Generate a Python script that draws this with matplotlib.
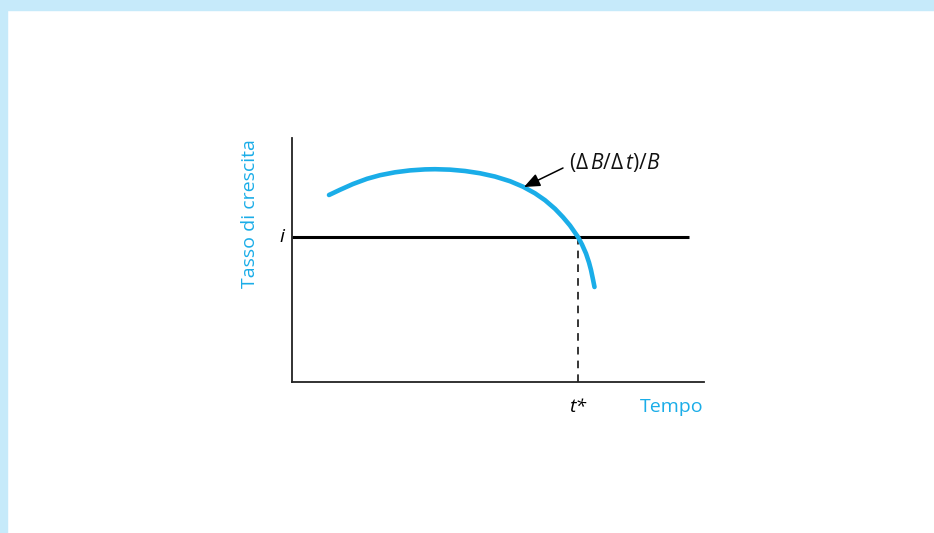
import matplotlib
matplotlib.use("Agg")
import matplotlib.pyplot as plt
from matplotlib.patches import Rectangle

plt.rcParams['font.family'] = ['Open Sans', 'DejaVu Sans']
plt.rcParams['mathtext.fontset'] = 'custom'
plt.rcParams['mathtext.rm'] = 'Open Sans'
plt.rcParams['mathtext.it'] = 'Open Sans:italic'

# Curve (time, growth rate)
curve_t = [37, 48, 61, 75, 88, 103, 118, 133, 143, 158, 173, 188, 203, 218, 231,
           243, 253, 263, 271, 278, 286, 290, 294, 297, 299, 301, 302.5]
curve_r = [187, 192.2, 198, 203.2, 206.8, 209.7, 211.6, 212.6, 212.8, 212.35, 211,
           208.75, 205.45, 200.8, 195.3, 188.7, 181.8, 173.2, 164.8, 156.5, 145,
           137.5, 128.5, 119.5, 112, 102.5, 95]
rate_i = 145
t_star = 286
hline_end = 397

xlabel = "Tempo"
ylabel = "Tasso di crescita"
curve_label = r"$(\Delta\, B/\Delta\, t)/B$"

blue = "#1AADE8"
border = "#C6EAFA"

fig = plt.figure(figsize=(9.34, 5.33), dpi=100)
fig.patches.append(Rectangle((0, 1 - 10/533), 1, 10/533, transform=fig.transFigure,
                             color=border, zorder=0))
fig.patches.append(Rectangle((0, 0), 7/934, 1, transform=fig.transFigure,
                             color=border, zorder=0))

ax = fig.add_axes([292/934, 1 - 382/533, 412/934, 244/533])
ax.set_xlim(0, 412)
ax.set_ylim(0, 244)
for s in ["top", "right"]:
    ax.spines[s].set_visible(False)
for s in ["left", "bottom"]:
    ax.spines[s].set_linewidth(1.3)
    ax.spines[s].set_color("#222222")
ax.set_xticks([])
ax.set_yticks([])

ax.plot([0, hline_end], [rate_i, rate_i], color="black", lw=2.2, solid_capstyle="butt", zorder=2)
ax.plot([t_star, t_star], [0, rate_i], color="black", lw=1.1, ls=(0, (5, 4)), zorder=1)
ax.plot(curve_t, curve_r, color=blue, lw=3.3, solid_capstyle="round",
        solid_joinstyle="round", zorder=3)

ax.annotate("", xy=(232, 195), xytext=(271, 214),
            arrowprops=dict(arrowstyle="-|>,head_length=0.6,head_width=0.25", color="black", lw=1.1,
                            mutation_scale=16, shrinkA=0, shrinkB=0))
ax.text(277, 220, curve_label, fontsize=15, ha="left", va="center", color="#111111")

ax.text(-8, rate_i, "i", fontsize=14, style="italic", ha="right", va="center")
ax.text(t_star, -25, "t*", fontsize=14, style="italic", ha="center", va="center")
ax.text(412, -25, xlabel, fontsize=14, color=blue, ha="right", va="center")
ax.text(-42, 168, ylabel, fontsize=14, color=blue, rotation=90, ha="center", va="center")

fig.savefig("out.png", dpi=100, facecolor="white")
